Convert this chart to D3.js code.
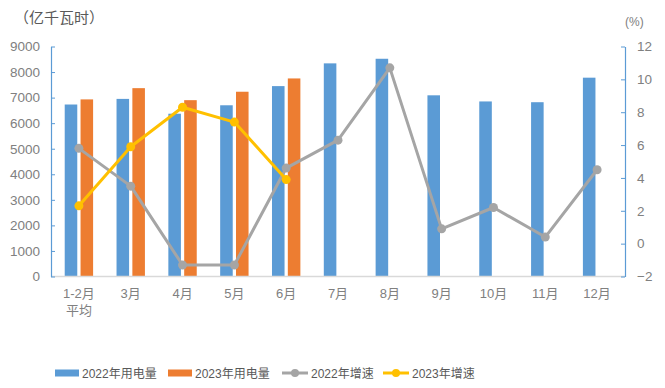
<!DOCTYPE html>
<html>
<head>
<meta charset="utf-8">
<script src="https://cdn.jsdelivr.net/npm/d3@7/dist/d3.min.js"></script>
<style>
  html, body { margin: 0; padding: 0; background: #fff; }
  text { font-family: "Liberation Sans", "Noto Sans CJK SC", sans-serif; }
</style>
</head>
<body>
<div id="chart"></div>
<script>
// categories and values
const months = ['1-2月\n平均', '3月', '4月', '5月', '6月', '7月', '8月', '9月', '10月', '11月', '12月'];
const use2022 = [6730, 6950, 6370, 6700, 7450, 8340, 8520, 7090, 6850, 6820, 7780];
const use2023 = [6930, 7370, 6900, 7230, 7750];
const growth2022 = [5.8, 3.5, -1.3, -1.3, 4.6, 6.3, 10.7, 0.9, 2.2, 0.4, 4.5];
const growth2023 = [2.3, 5.9, 8.3, 7.4, 3.9];
const leftTicks = [0, 1000, 2000, 3000, 4000, 5000, 6000, 7000, 8000, 9000];
const rightTicks = [-2, 0, 2, 4, 6, 8, 10, 12];

const width = 665, height = 388;
const plot = { left: 51, right: 625, top: 46.5, bottom: 276.5 };
const colors = { b22: '#5B9BD5', b23: '#ED7D31', g22: '#A5A5A5', g23: '#FFC000' };

const svg = d3.select('#chart').append('svg')
  .attr('width', width).attr('height', height);

const x = d3.scaleBand().domain(months).range([53, 623]);
const x1 = d3.scaleBand().domain(['2022', '2023'])
  .range([0, x.bandwidth()]).paddingInner(0.207).paddingOuter(0.74);
const yL = d3.scaleLinear().domain([0, 9000]).range([plot.bottom, plot.top]);
const yR = d3.scaleLinear().domain([-2, 12]).range([plot.bottom, plot.top]);

// bars
const bars22 = use2022.map((v, i) => ({ m: months[i], v, s: '2022' }));
const bars23 = use2023.map((v, i) => ({ m: months[i], v, s: '2023' }));
svg.append('g').selectAll('rect')
  .data(bars22.concat(bars23))
  .join('rect')
  .attr('x', d => x(d.m) + x1(d.s))
  .attr('y', d => yL(d.v))
  .attr('width', x1.bandwidth())
  .attr('height', d => yL(0) - yL(d.v))
  .attr('fill', d => d.s === '2022' ? colors.b22 : colors.b23);

// bottom axis line
svg.append('line')
  .attr('x1', plot.left).attr('x2', plot.right)
  .attr('y1', plot.bottom).attr('y2', plot.bottom)
  .attr('stroke', '#D9D9D9').attr('stroke-width', 1.5);

// left axis
const axL = svg.append('g')
  .attr('transform', `translate(${plot.left},0)`)
  .call(d3.axisLeft(yL).tickValues(leftTicks).tickFormat(d3.format('d'))
    .tickSize(-4).tickSizeOuter(0).tickPadding(11));
axL.select('.domain').attr('stroke', colors.b22).attr('stroke-width', 1.2);
axL.selectAll('.tick line').attr('stroke', colors.b22);
axL.selectAll('text').attr('fill', '#808080').attr('font-size', 13.5)
  .style('font-family', '"Liberation Sans", sans-serif');

// right axis
const axR = svg.append('g')
  .attr('transform', `translate(${plot.right},0)`)
  .call(d3.axisRight(yR).tickValues(rightTicks).tickSize(-4).tickSizeOuter(0).tickPadding(12));
axR.select('.domain').attr('stroke', colors.b22).attr('stroke-width', 1.2);
axR.selectAll('.tick line').attr('stroke', colors.b22);
axR.selectAll('text').attr('fill', '#808080').attr('font-size', 13.5)
  .style('font-family', '"Liberation Sans", sans-serif');

// x labels
const xl = svg.append('g').selectAll('text')
  .data(months)
  .join('text')
  .attr('x', d => x(d) + x.bandwidth() / 2)
  .attr('y', 298)
  .attr('text-anchor', 'middle')
  .attr('fill', '#808080')
  .attr('font-size', 13);
xl.each(function(d) {
  const parts = d.split('\n');
  d3.select(this).selectAll('tspan').data(parts).join('tspan')
    .attr('x', x(d) + x.bandwidth() / 2)
    .attr('dy', (p, i) => i === 0 ? 0 : 17)
    .text(p => p);
});

// growth lines
function drawLine(vals, color) {
  const pts = vals.map((v, i) => ({ m: months[i], v }));
  const line = d3.line().x(d => x(d.m) + x.bandwidth() / 2).y(d => yR(d.v));
  svg.append('path').datum(pts)
    .attr('d', line).attr('fill', 'none')
    .attr('stroke', color).attr('stroke-width', 3).attr('stroke-linejoin', 'round');
  svg.append('g').selectAll('circle').data(pts).join('circle')
    .attr('cx', d => x(d.m) + x.bandwidth() / 2)
    .attr('cy', d => yR(d.v))
    .attr('r', 4.5).attr('fill', color);
}
drawLine(growth2022, colors.g22);
drawLine(growth2023, colors.g23);

// titles
svg.append('text').attr('x', 14).attr('y', 23)
  .attr('fill', '#595959').attr('font-size', 15)
  .style('font-family', '"Noto Sans CJK SC", sans-serif')
  .text('（亿千瓦时）');
svg.append('text').attr('x', 625).attr('y', 26)
  .attr('fill', '#808080').attr('font-size', 12)
  .text('(%)');

// legend
const legendItems = [
  { label: '2022年用电量', color: colors.b22, type: 'bar', x: 55 },
  { label: '2023年用电量', color: colors.b23, type: 'bar', x: 168 },
  { label: '2022年增速', color: colors.g22, type: 'line', x: 282 },
  { label: '2023年增速', color: colors.g23, type: 'line', x: 383 }
];
const lg = svg.append('g').selectAll('g').data(legendItems).join('g')
  .attr('transform', d => `translate(${d.x},373)`);
lg.filter(d => d.type === 'bar').append('rect')
  .attr('x', 0).attr('y', -3.5).attr('width', 24).attr('height', 7)
  .attr('fill', d => d.color);
lg.filter(d => d.type === 'line').append('line')
  .attr('x1', 0).attr('x2', 26).attr('y1', 0).attr('y2', 0)
  .attr('stroke', d => d.color).attr('stroke-width', 3);
lg.filter(d => d.type === 'line').append('circle')
  .attr('cx', 13).attr('cy', 0).attr('r', 4).attr('fill', d => d.color);
lg.append('text')
  .attr('x', d => d.type === 'bar' ? 27 : 29)
  .attr('y', 4.5)
  .attr('fill', '#595959').attr('font-size', 12)
  .text(d => d.label);
</script>
</body>
</html>
